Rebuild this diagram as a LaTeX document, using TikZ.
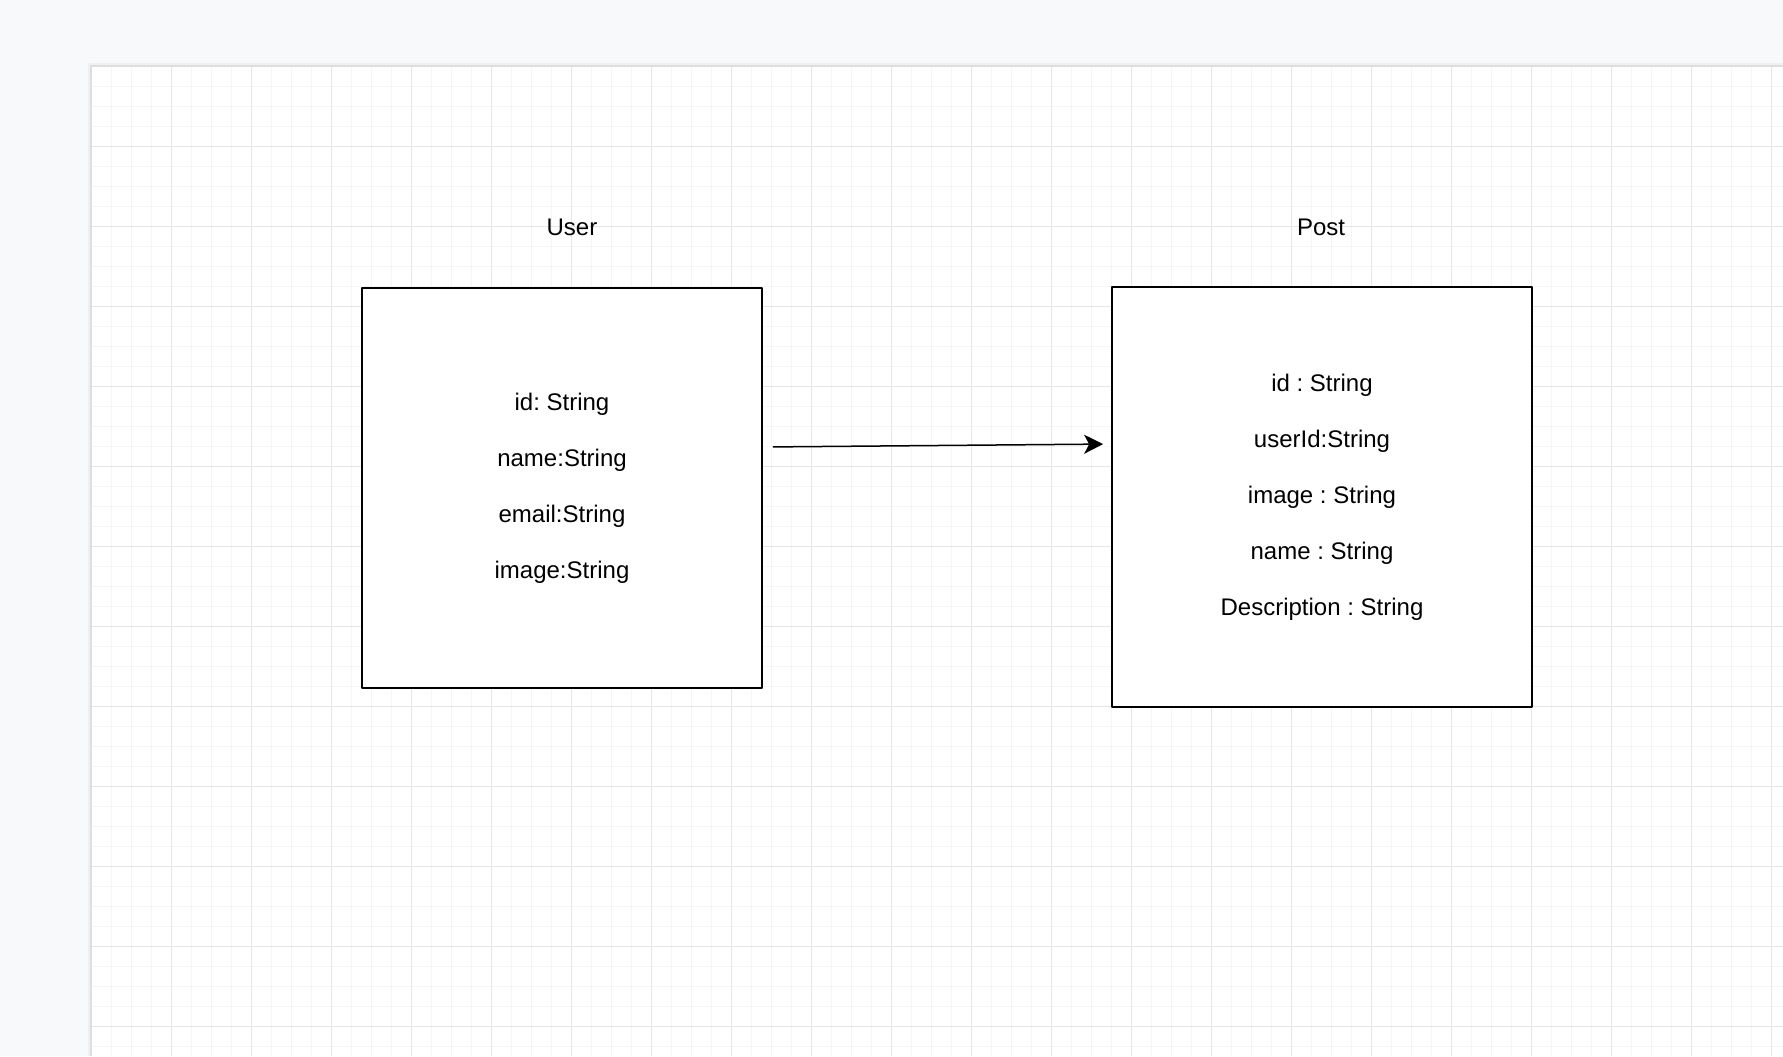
\documentclass[tikz,border=0pt]{standalone}
\usepackage{fontspec}
\setmainfont{Liberation Sans}
\frenchspacing
\usetikzlibrary{arrows.meta, positioning}
\definecolor{pagebg}{HTML}{F8F9FA}
\definecolor{gridmajor}{HTML}{E6E6E6}
\definecolor{gridminor}{HTML}{F5F5F5}

\begin{document}
\begin{tikzpicture}[
  x=0.5pt, y=-0.5pt,
  font=\fontsize{12}{28}\selectfont\frenchspacing,
  line join=round,
  >=Stealth,
  flow/.style={-{Stealth[length=9.5pt, width=9.5pt, inset=2.5pt]},
               line width=0.75pt, draw=black},
  entity/.style={draw=black, line width=0.85pt, fill=white,
                 align=center, inner sep=0pt},
  title/.style={font=\fontsize{12}{14}\selectfont},
  minorline/.style={draw=gridminor, line width=0.6pt},
  majorline/.style={draw=gridmajor, line width=0.75pt}
]
\useasboundingbox (0,0) rectangle (1783,1056);
\fill[pagebg] (0,0) rectangle (1783,1056);
\fill[white] (91.7,66.7) rectangle (1783,1056);
% grid
\foreach \i in {0,...,84}
  \draw[minorline] ({91.7+20*\i},66.7) -- ({91.7+20*\i},1056);
\foreach \j in {0,...,49}
  \draw[minorline] (91.7,{66.7+20*\j}) -- (1783,{66.7+20*\j});
\foreach \i in {0,...,21}
  \draw[majorline] ({91.7+80*\i},66.7) -- ({91.7+80*\i},1056);
\foreach \j in {0,...,12}
  \draw[majorline] (91.7,{66.7+80*\j}) -- (1783,{66.7+80*\j});
\draw[black!6, line width=1.5pt] (89.5,1056) -- (89.5,64.5) -- (1783,64.5);
\draw[black!13, line width=0.6pt] (91,1056) -- (91,66) -- (1783,66);
% entities
\node[entity, minimum width=200pt, minimum height=200pt] (user) at (562,488)
  {id: String\\name:String\\email:String\\image:String};
\node[entity, minimum width=210pt, minimum height=210pt] (post) at (1322,497)
  {id : String\\userId:String\\image : String\\name : String\\Description : String};
\node[title] (usertitle) at (572,227) {User};
\node[title] (posttitle) at (1321,227) {Post};
\draw[flow, shorten <=5pt, shorten >=4pt]
  ([yshift=20.5pt]user.east) -- ([yshift=26.5pt]post.west);
\end{tikzpicture}
\end{document}
